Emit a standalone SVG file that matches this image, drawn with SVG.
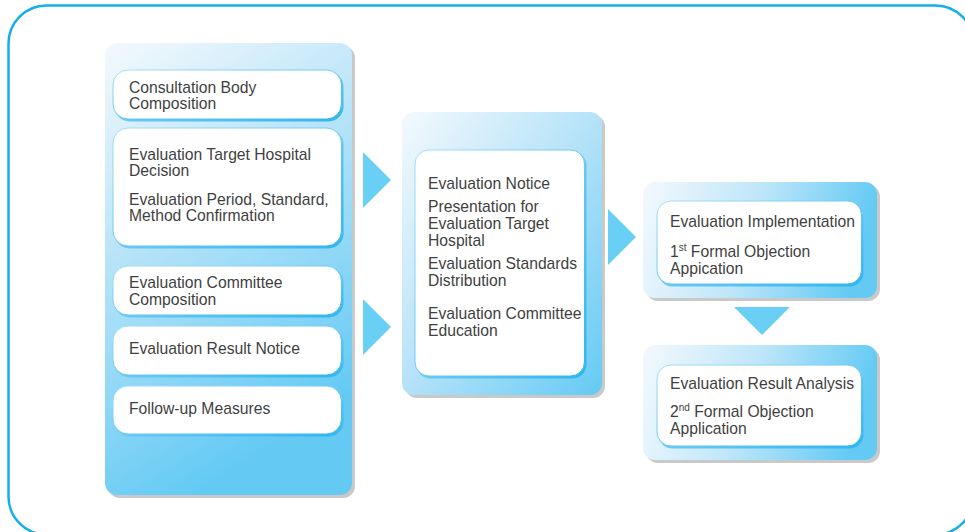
<svg xmlns="http://www.w3.org/2000/svg" width="965" height="532" viewBox="0 0 965 532">
  <defs>
    <linearGradient id="gPanelV" x1="0" y1="0" x2="0.35" y2="1">
      <stop offset="0" stop-color="#f4f9fd"/>
      <stop offset="0.45" stop-color="#b6e3f8"/>
      <stop offset="1" stop-color="#64caf4"/>
    </linearGradient>
    <linearGradient id="gPanelD" x1="0" y1="0" x2="1" y2="1">
      <stop offset="0" stop-color="#f4f9fd"/>
      <stop offset="0.5" stop-color="#b4e2f8"/>
      <stop offset="1" stop-color="#64caf4"/>
    </linearGradient>
    <linearGradient id="gPanelH" x1="0" y1="0" x2="1" y2="0.15">
      <stop offset="0" stop-color="#f4f9fd"/>
      <stop offset="0.5" stop-color="#bfe6f9"/>
      <stop offset="1" stop-color="#64caf4"/>
    </linearGradient>
    <linearGradient id="gEdge" x1="0" y1="0" x2="1" y2="1">
      <stop offset="0" stop-color="#a6ddf6"/>
      <stop offset="1" stop-color="#2fb6ee"/>
    </linearGradient>
  </defs>
  <style>
    .frame { fill: #ffffff; stroke: #16aeea; stroke-width: 2.5; }
    .shadow { fill: #c9c9c9; }
    .edge { fill: url(#gEdge); }
    .box { fill: #ffffff; stroke: url(#gEdge); stroke-width: 1; }
    .arrow { fill: #6acff5; }
    text { font-family: "Liberation Sans", Arial, sans-serif; font-size: 15.7px; fill: #3f3f3f; }
    .sup { font-size: 10px; }
  </style>

  <!-- outer frame -->
  <rect class="frame" x="8.5" y="5.5" width="965" height="529" rx="38"/>

  <!-- left column -->
  <g id="panel-left">
    <rect class="shadow" x="108" y="46" width="247" height="452" rx="12"/>
    <rect x="105" y="43" width="247" height="452" rx="12" fill="url(#gPanelV)"/>
  </g>
  <g id="consultation-body">
    <rect class="edge" x="114.5" y="71.5" width="229" height="50" rx="15"/>
    <rect class="box" x="113" y="70" width="228.5" height="49" rx="15"/>
    <text x="129" y="93">Consultation Body</text>
    <text x="129" y="109">Composition</text>
  </g>
  <g id="target-hospital-decision">
    <rect class="edge" x="114.5" y="129.5" width="229" height="119" rx="15"/>
    <rect class="box" x="113" y="128" width="228.5" height="118" rx="15"/>
    <text x="129" y="160">Evaluation Target Hospital</text>
    <text x="129" y="176">Decision</text>
    <text x="129" y="205">Evaluation Period, Standard,</text>
    <text x="129" y="221">Method Confirmation</text>
  </g>
  <g id="committee-composition">
    <rect class="edge" x="114.5" y="267.5" width="229" height="50" rx="15"/>
    <rect class="box" x="113" y="266" width="228.5" height="49" rx="15"/>
    <text x="129" y="288">Evaluation Committee</text>
    <text x="129" y="305">Composition</text>
  </g>
  <g id="result-notice">
    <rect class="edge" x="114.5" y="327.5" width="229" height="50" rx="15"/>
    <rect class="box" x="113" y="326" width="228.5" height="49" rx="15"/>
    <text x="129" y="354">Evaluation Result Notice</text>
  </g>
  <g id="follow-up">
    <rect class="edge" x="114.5" y="387.5" width="229" height="49" rx="15"/>
    <rect class="box" x="113" y="386" width="228.5" height="48" rx="15"/>
    <text x="129" y="414">Follow-up Measures</text>
  </g>

  <!-- middle column -->
  <g id="evaluation-notice">
    <rect class="shadow" x="405" y="115" width="200" height="283" rx="12"/>
    <rect x="402" y="112" width="200" height="283" rx="12" fill="url(#gPanelD)"/>
    <rect class="edge" x="416.5" y="151.5" width="170" height="227" rx="14"/>
    <rect class="box" x="415" y="150" width="169.5" height="226" rx="14"/>
    <text x="428" y="189">Evaluation Notice</text>
    <text x="428" y="212">Presentation for</text>
    <text x="428" y="229">Evaluation Target</text>
    <text x="428" y="246">Hospital</text>
    <text x="428" y="269">Evaluation Standards</text>
    <text x="428" y="286">Distribution</text>
    <text x="428" y="319">Evaluation Committee</text>
    <text x="428" y="336">Education</text>
  </g>

  <!-- right column -->
  <g id="implementation">
    <rect class="shadow" x="646" y="185" width="234" height="116" rx="12"/>
    <rect x="643" y="182" width="234" height="116" rx="12" fill="url(#gPanelH)"/>
    <rect class="edge" x="658.5" y="202.5" width="205" height="84" rx="14"/>
    <rect class="box" x="657" y="201" width="204.5" height="83" rx="14"/>
    <text x="670" y="227">Evaluation Implementation</text>
    <text x="670" y="257">1<tspan class="sup" dy="-6">st</tspan><tspan dy="6"> Formal Objection</tspan></text>
    <text x="670" y="274">Appication</text>
  </g>
  <g id="result-analysis">
    <rect class="shadow" x="646" y="348" width="234" height="115" rx="12"/>
    <rect x="643" y="345" width="234" height="115" rx="12" fill="url(#gPanelH)"/>
    <rect class="edge" x="658.5" y="366.5" width="205" height="82" rx="14"/>
    <rect class="box" x="657" y="365" width="204.5" height="81" rx="14"/>
    <text x="670" y="389">Evaluation Result Analysis</text>
    <text x="670" y="417">2<tspan class="sup" dy="-6">nd</tspan><tspan dy="6"> Formal Objection</tspan></text>
    <text x="670" y="434">Application</text>
  </g>

  <!-- flow arrows -->
  <g id="connectors">
    <polygon class="arrow" points="363,152 363,208 391,180"/>
    <polygon class="arrow" points="363,299 363,355 391,327"/>
    <polygon class="arrow" points="608,209 608,265 636,237"/>
    <polygon class="arrow" points="734,307 790,307 762,335"/>
  </g>
</svg>
